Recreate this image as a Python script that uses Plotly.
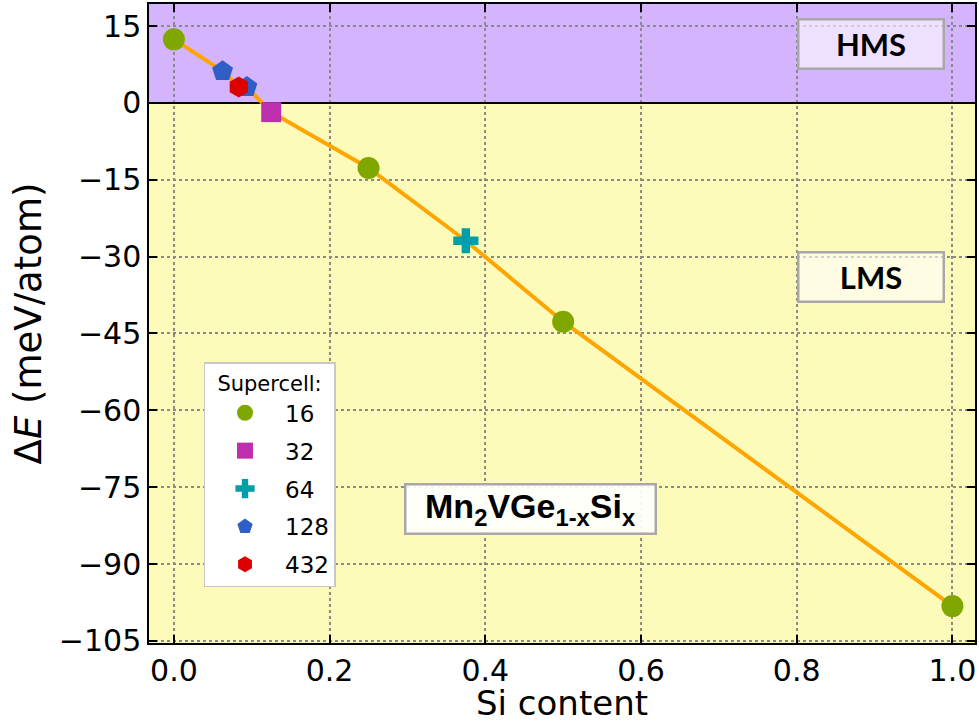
import plotly.graph_objects as go

# Data (Si content x, formation energy difference in meV/atom) per supercell size
x16 = [0.0, 0.25, 0.5, 1.0]
y16 = [12.4, -12.7, -42.7, -98.2]
x32 = [0.125]
y32 = [-1.8]
x64 = [0.375]
y64 = [-26.9]
x128 = [0.0625, 0.09375]
y128 = [6.2, 3.1]
x432 = [1 / 12]
y432 = [3.1]

series = [
    ("16", x16, y16, "circle", "#80A600", 22),
    ("32", x32, y32, "square", "#BE2FAE", 20),
    ("64", x64, y64, "cross", "#009FA8", 21),
    ("128", x128, y128, "pentagon", "#2F5EC6", 22),
    ("432", x432, y432, "hexagon", "#DD0000", 21),
]

xticks = [0.0, 0.2, 0.4, 0.6, 0.8, 1.0]
yticks = [15, 0, -15, -30, -45, -60, -75, -90, -105]
xr = [-0.032, 1.029]
yr = [-105.4, 19.3]

allpts = sorted(zip(x16 + x32 + x64 + x128 + x432, y16 + y32 + y64 + y128 + y432))
lx = [p[0] for p in allpts]
ly = [p[1] for p in allpts]

fig = go.Figure()
fig.add_trace(go.Scatter(x=lx, y=ly, mode="lines", line=dict(color="#FFA500", width=4),
                         showlegend=False, hoverinfo="skip"))
for name, xs, ys, sym, col, sz in series:
    fig.add_trace(go.Scatter(x=xs, y=ys, mode="markers", name=name, legendgroup=name,
                             marker=dict(symbol=sym, size=sz, color=col, line=dict(width=0))))

# background regions
fig.add_shape(type="rect", xref="paper", yref="y", x0=0, x1=1, y0=0, y1=yr[1],
              fillcolor="#D5B4FE", line=dict(width=0), layer="below")
fig.add_shape(type="rect", xref="paper", yref="y", x0=0, x1=1, y0=yr[0], y1=0,
              fillcolor="#FDFBBA", line=dict(width=0), layer="below")

font = "DejaVu Sans"
ax = dict(showline=True, linecolor="black", linewidth=1.5, mirror="ticks",
          ticks="inside", ticklen=8, tickwidth=2, tickcolor="black",
          showgrid=True, gridcolor="#8a8a8a", griddash="dot", gridwidth=1.5,
          tickfont=dict(family=font, size=30, color="black"), layer="above traces")
fig.update_xaxes(**ax, range=xr, tickvals=xticks, ticktext=[f"{v:.1f}" for v in xticks],
                 zeroline=False)
fig.update_yaxes(**ax, range=yr, tickvals=yticks,
                 ticktext=[("\u2212" + str(-v)) if v < 0 else str(v) for v in yticks],
                 zeroline=True, zerolinecolor="black", zerolinewidth=1.5,
                 title=dict(text="\u0394<i>E</i> (meV/atom)", font=dict(family=font, size=37, color="black"), standoff=6))

# x-axis title
fig.add_annotation(x=0.5, y=-0.094, xref="paper", yref="paper", text="Si content",
                   showarrow=False, xanchor="center", yanchor="middle",
                   font=dict(family=font, size=34, color="black"))

box = dict(bordercolor="#A8A8A8", borderwidth=2.5, showarrow=False, xref="x", yref="y")
fig.add_annotation(x=0.895, y=11.5, text="<b>HMS</b>", bgcolor="rgba(255,255,255,0.6)",
                   width=141, height=45, font=dict(family="Lato", size=31, color="black"), **box)
fig.add_annotation(x=0.895, y=-33.9, text="<b>LMS</b>", bgcolor="rgba(255,255,255,0.6)",
                   width=141, height=45, font=dict(family="Lato", size=31, color="black"), **box)
fig.add_annotation(x=0.458, y=-79.3,
                   text="<b>Mn<sub>2</sub>VGe<sub>1-x</sub>Si<sub>x</sub></b>",
                   bgcolor="rgba(255,255,255,0.92)", width=246, height=45,
                   font=dict(family="Liberation Sans", size=34, color="black"), **box)

fig.update_layout(
    width=979, height=728,
    margin=dict(l=149, r=2, t=3, b=85),
    plot_bgcolor="white", paper_bgcolor="white",
    legend=dict(x=0.066, y=0.439, xanchor="left", yanchor="top",
                title=dict(text="Supercell:", font=dict(family=font, size=21, color="black"), side="top center"),
                font=dict(family=font, size=23, color="black"),
                bgcolor="white", bordercolor="#C8C8C8", borderwidth=1.5,
                tracegroupgap=5, itemwidth=70),
)

fig.write_html("out.html")
